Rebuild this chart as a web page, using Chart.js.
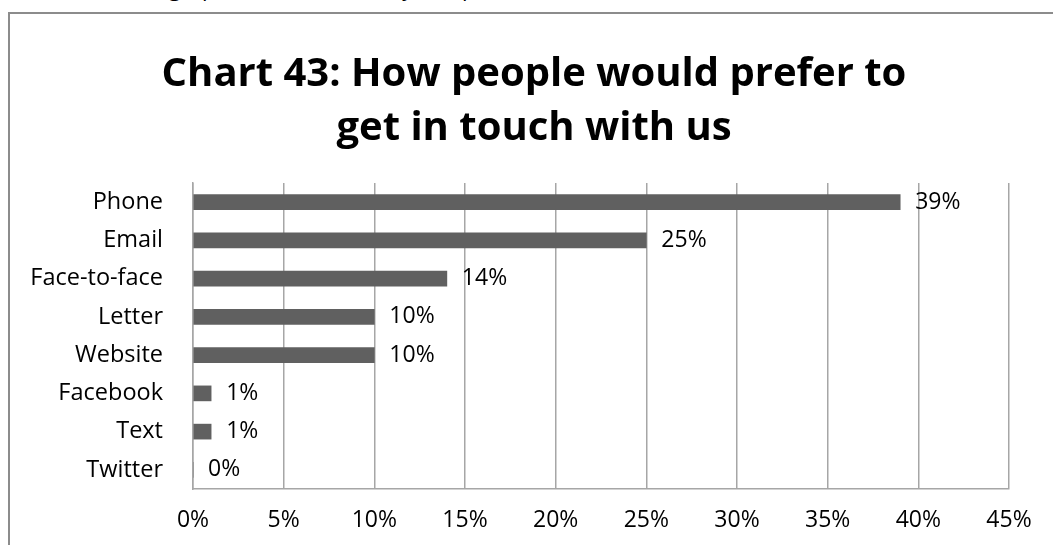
<html>
<head>
  <title></title>
  <style>
    body { margin: 0; background: #fff; overflow: hidden; width: 1053px; height: 545px; position: relative; }
    .above { position: absolute; left: 70px; top: -24px; font: 22px/22px "Open Sans", sans-serif; white-space: nowrap; color: #000; }
    .frame { position: absolute; left: 8px; top: 12px; width: 1300px; height: 700px; border-left: 2px solid #8c8c8c; border-top: 2px solid #8c8c8c; }
    #myChart { position: absolute; left: 0; top: 0; }
  </style>
</head>
<body>
  <div class="above">the demographic from the survey sample</div>
  <div class="frame"></div>
  <canvas id="myChart" width="1053" height="545"></canvas>

<script src="https://cdn.jsdelivr.net/npm/chart.js"></script>

<script>
  const titleLines = ['Chart 43: How people would prefer to', 'get in touch with us']
  const channels = ['Phone', 'Email', 'Face-to-face', 'Letter', 'Website', 'Facebook', 'Text', 'Twitter']
  const shares = [39, 25, 14, 10, 10, 1, 1, 0]  // percent
  const axisMin = 0, axisMax = 45, axisStep = 5

  const ctx = document.getElementById('myChart');

  // percentage labels just past the end of each bar
  const barLabels = {
    id: 'barLabels',
    afterDatasetsDraw(chart) {
      const c = chart.ctx
      const meta = chart.getDatasetMeta(0)
      c.save()
      c.font = '23px "Open Sans", sans-serif'
      c.fillStyle = '#000'
      c.textAlign = 'left'
      c.textBaseline = 'middle'
      meta.data.forEach((bar, i) => {
        c.fillText(shares[i] + '%', bar.x + 15, bar.y)
      })
      c.restore()
    }
  }

  new Chart(ctx, {
    type: 'bar',
    data: {
      labels: channels,
      datasets: [{
        data: shares,
        yAxisID: 'y',
        backgroundColor: '#606060',
        borderWidth: 0,
        barThickness: 15
      }]
    },
    options: {
      indexAxis: 'y',
      responsive: false,
      animation: false,
      layout: { padding: { top: 0, right: 0, bottom: 0, left: 15 } },
      plugins: {
        legend: { display: false },
        tooltip: { enabled: false },
        title: {
          display: true,
          text: titleLines,
          color: '#000',
          font: { family: '"Open Sans", sans-serif', size: 40, weight: 'bold', lineHeight: 1.35 },
          padding: { top: 48, bottom: 27 }
        }
      },
      scales: {
        x: {
          min: axisMin,
          max: axisMax,
          ticks: {
            stepSize: axisStep,
            callback: v => v + '%',
            color: '#000',
            font: { family: '"Open Sans", sans-serif', size: 23 },
            padding: 18
          },
          grid: { color: '#a6a6a6', lineWidth: 1.5, drawTicks: false },
          border: { color: '#a6a6a6', width: 1.5 },
          afterFit: s => { s.height = 56 }
        },
        y: {
          ticks: {
            color: '#000',
            font: { family: '"Open Sans", sans-serif', size: 23.5 },
            padding: 30
          },
          grid: { display: false, drawTicks: false },
          border: { color: '#a6a6a6', width: 1.5 },
          afterFit: s => { s.width = 178 }
        },
        // empty right-hand strip so the plot ends at 45% well before the edge
        yRight: {
          type: 'category',
          position: 'right',
          ticks: { display: false },
          grid: { display: false, drawTicks: false },
          border: { display: false },
          afterFit: s => { s.width = 44 }
        }
      }
    },
    plugins: [barLabels]
  });
</script>

</body>
</html>
